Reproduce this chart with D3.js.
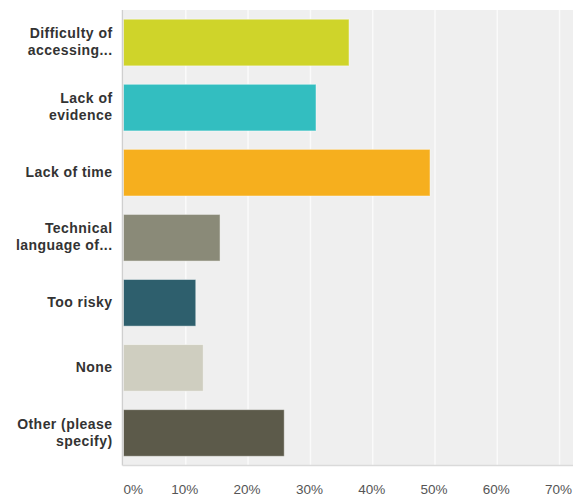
<!DOCTYPE html>
<html>
<head>
<meta charset="utf-8">
<script src="https://cdn.jsdelivr.net/npm/d3@7"></script>
<style>
  html, body { margin: 0; padding: 0; background: #fff; }
  svg { display: block; }
</style>
</head>
<body>
<svg id="chart" width="579" height="501"></svg>
<script>
// Survey answers: barriers to using research
const categories = [
  ["Difficulty of", "accessing..."],
  ["Lack of", "evidence"],
  ["Lack of time"],
  ["Technical", "language of..."],
  ["Too risky"],
  ["None"],
  ["Other (please", "specify)"]
];
const values = [36.2, 30.9, 49.2, 15.5, 11.6, 12.8, 25.8];
const colors = ["#cfd42a", "#33bec0", "#f6af1e", "#8a8a78", "#2e5f6d", "#cfcec0", "#5c5a4a"];
const ticks = [0, 10, 20, 30, 40, 50, 60, 70];

const svg = d3.select("#chart");
const plotLeft = 123.5, plotTop = 10, plotRight = 573, plotBottom = 465.5;

const x = d3.scaleLinear().domain([0, 70]).range([plotLeft, plotLeft + 436.1]);
const y = d3.scaleBand()
  .domain(d3.range(categories.length))
  .range([plotTop, plotBottom])
  .paddingInner(0.283)
  .paddingOuter(0.1415);

// plot background
svg.append("rect")
  .attr("x", plotLeft).attr("y", plotTop)
  .attr("width", plotRight - plotLeft).attr("height", plotBottom - plotTop)
  .attr("fill", "#efefef");

// vertical gridlines
svg.append("g").selectAll("line")
  .data(ticks.slice(1))
  .join("line")
  .attr("x1", d => x(d)).attr("x2", d => x(d))
  .attr("y1", plotTop).attr("y2", plotBottom)
  .attr("stroke", "#fafafa").attr("stroke-width", 1.5);

// bars
svg.append("g").selectAll("rect")
  .data(values)
  .join("rect")
  .attr("x", x(0))
  .attr("y", (d, i) => y(i))
  .attr("width", d => x(d) - x(0))
  .attr("height", y.bandwidth())
  .attr("fill", (d, i) => colors[i])
  .attr("stroke", "rgba(255,255,255,0.45)")
  .attr("stroke-width", 1);

// axis lines
svg.append("line")
  .attr("x1", plotLeft - 1).attr("x2", plotLeft - 1)
  .attr("y1", plotTop).attr("y2", plotBottom)
  .attr("stroke", "#cfcfcf").attr("stroke-width", 1.5);
svg.append("line")
  .attr("x1", plotLeft - 1).attr("x2", plotRight)
  .attr("y1", plotBottom).attr("y2", plotBottom)
  .attr("stroke", "#dadada").attr("stroke-width", 1.5);

// x tick labels (the first one sits flush with the axis)
const xAxis = d3.axisBottom(x).tickValues(ticks).tickFormat(d => d + "%").tickSize(0).tickPadding(0);
const gx = svg.append("g").attr("transform", `translate(-1.5, ${plotBottom + 24})`).call(xAxis);
gx.select(".domain").remove();
gx.selectAll("text")
  .attr("dy", "0.32em")
  .attr("fill", "#555")
  .style("font-family", "Arial, 'Liberation Sans', sans-serif")
  .style("font-size", "13.5px");
gx.selectAll(".tick").filter(d => d === 0).select("text")
  .attr("text-anchor", "start").attr("x", 1);

// category labels
const lab = svg.append("g")
  .style("font-family", "Arial, 'Liberation Sans', sans-serif")
  .style("font-size", "14px")
  .style("font-weight", "bold")
  .style("letter-spacing", "0.45px")
  .attr("fill", "#333")
  .attr("text-anchor", "end");
categories.forEach((lines, i) => {
  const cy = y(i) + y.bandwidth() / 2;
  const lh = 17;
  const t = lab.append("text");
  lines.forEach((ln, j) => {
    t.append("tspan")
      .attr("x", 112.5)
      .attr("y", cy + (j - (lines.length - 1) / 2) * lh)
      .attr("dy", "0.3em")
      .text(ln);
  });
});
</script>
</body>
</html>
